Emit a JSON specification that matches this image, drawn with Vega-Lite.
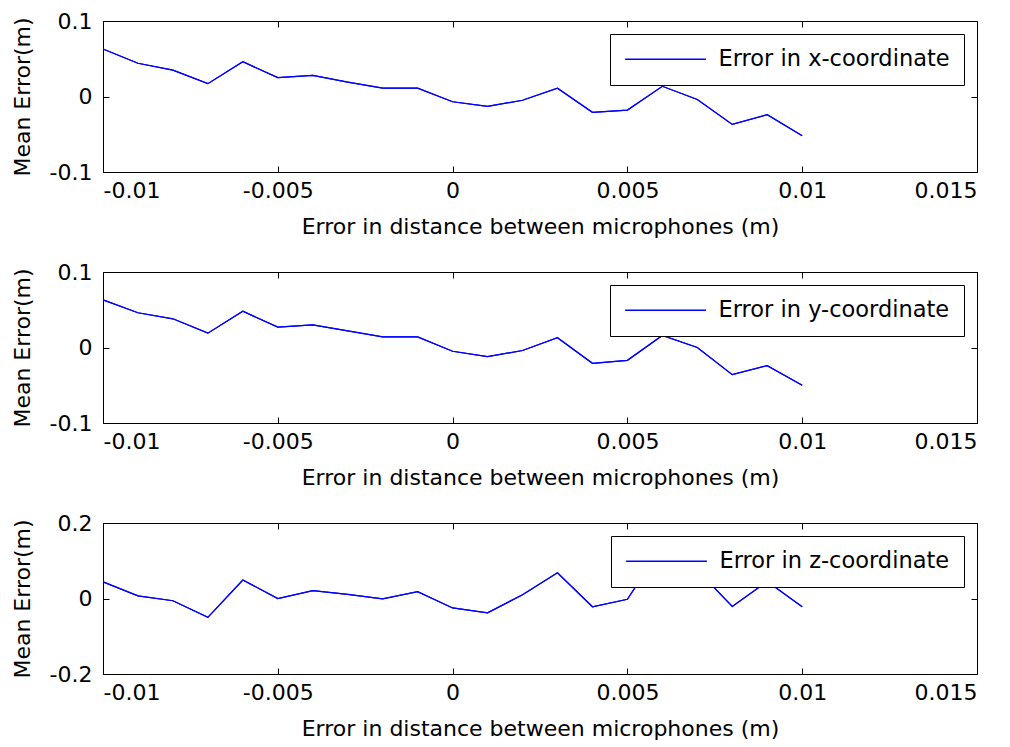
{
  "$schema": "https://vega.github.io/schema/vega-lite/v6.json",
  "background": "white",
  "padding": {"left": 10, "top": 9, "right": 0, "bottom": 0},
  "config": {
    "font": "DejaVu Sans",
    "view": {"stroke": "black", "strokeWidth": 1},
    "axis": {
      "labelFont": "DejaVu Sans", "labelFontSize": 22, "labelColor": "black",
      "titleFont": "DejaVu Sans", "titleFontSize": 22, "titleFontWeight": "normal", "titleColor": "black",
      "grid": false, "domain": false, "tickColor": "black", "tickSize": -6, "tickWidth": 1
    },
    "axisX": {"labelPadding": 14, "titlePadding": 15},
    "axisY": {"labelPadding": 17, "titlePadding": 15},
    "legend": {
      "orient": "top-right", "offset": 13, "strokeColor": "black", "fillColor": "white",
      "padding": 14, "labelFont": "DejaVu Sans", "labelFontSize": 22.5, "labelColor": "black",
      "labelLimit": 400, "symbolType": "M-2,0H14", "symbolSize": 102, "symbolStrokeWidth": 1.3,
      "labelOffset": 72, "cornerRadius": 0
    }
  },
  "datasets": {
    "d": [
      {"dist": -0.010, "err": 0.063, "axis": "x", "series": "Error in x-coordinate"},
      {"dist": -0.009, "err": 0.044, "axis": "x", "series": "Error in x-coordinate"},
      {"dist": -0.008, "err": 0.035, "axis": "x", "series": "Error in x-coordinate"},
      {"dist": -0.007, "err": 0.017, "axis": "x", "series": "Error in x-coordinate"},
      {"dist": -0.006, "err": 0.046, "axis": "x", "series": "Error in x-coordinate"},
      {"dist": -0.005, "err": 0.025, "axis": "x", "series": "Error in x-coordinate"},
      {"dist": -0.004, "err": 0.028, "axis": "x", "series": "Error in x-coordinate"},
      {"dist": -0.003, "err": 0.019, "axis": "x", "series": "Error in x-coordinate"},
      {"dist": -0.002, "err": 0.011, "axis": "x", "series": "Error in x-coordinate"},
      {"dist": -0.001, "err": 0.011, "axis": "x", "series": "Error in x-coordinate"},
      {"dist": 0.000, "err": -0.007, "axis": "x", "series": "Error in x-coordinate"},
      {"dist": 0.001, "err": -0.013, "axis": "x", "series": "Error in x-coordinate"},
      {"dist": 0.002, "err": -0.005, "axis": "x", "series": "Error in x-coordinate"},
      {"dist": 0.003, "err": 0.011, "axis": "x", "series": "Error in x-coordinate"},
      {"dist": 0.004, "err": -0.021, "axis": "x", "series": "Error in x-coordinate"},
      {"dist": 0.005, "err": -0.018, "axis": "x", "series": "Error in x-coordinate"},
      {"dist": 0.006, "err": 0.0135, "axis": "x", "series": "Error in x-coordinate"},
      {"dist": 0.007, "err": -0.004, "axis": "x", "series": "Error in x-coordinate"},
      {"dist": 0.008, "err": -0.037, "axis": "x", "series": "Error in x-coordinate"},
      {"dist": 0.009, "err": -0.024, "axis": "x", "series": "Error in x-coordinate"},
      {"dist": 0.010, "err": -0.052, "axis": "x", "series": "Error in x-coordinate"},

      {"dist": -0.010, "err": 0.063, "axis": "y", "series": "Error in y-coordinate"},
      {"dist": -0.009, "err": 0.046, "axis": "y", "series": "Error in y-coordinate"},
      {"dist": -0.008, "err": 0.038, "axis": "y", "series": "Error in y-coordinate"},
      {"dist": -0.007, "err": 0.019, "axis": "y", "series": "Error in y-coordinate"},
      {"dist": -0.006, "err": 0.048, "axis": "y", "series": "Error in y-coordinate"},
      {"dist": -0.005, "err": 0.027, "axis": "y", "series": "Error in y-coordinate"},
      {"dist": -0.004, "err": 0.030, "axis": "y", "series": "Error in y-coordinate"},
      {"dist": -0.003, "err": 0.022, "axis": "y", "series": "Error in y-coordinate"},
      {"dist": -0.002, "err": 0.014, "axis": "y", "series": "Error in y-coordinate"},
      {"dist": -0.001, "err": 0.014, "axis": "y", "series": "Error in y-coordinate"},
      {"dist": 0.000, "err": -0.005, "axis": "y", "series": "Error in y-coordinate"},
      {"dist": 0.001, "err": -0.012, "axis": "y", "series": "Error in y-coordinate"},
      {"dist": 0.002, "err": -0.004, "axis": "y", "series": "Error in y-coordinate"},
      {"dist": 0.003, "err": 0.013, "axis": "y", "series": "Error in y-coordinate"},
      {"dist": 0.004, "err": -0.021, "axis": "y", "series": "Error in y-coordinate"},
      {"dist": 0.005, "err": -0.017, "axis": "y", "series": "Error in y-coordinate"},
      {"dist": 0.006, "err": 0.016, "axis": "y", "series": "Error in y-coordinate"},
      {"dist": 0.007, "err": 0.000, "axis": "y", "series": "Error in y-coordinate"},
      {"dist": 0.008, "err": -0.036, "axis": "y", "series": "Error in y-coordinate"},
      {"dist": 0.009, "err": -0.024, "axis": "y", "series": "Error in y-coordinate"},
      {"dist": 0.010, "err": -0.050, "axis": "y", "series": "Error in y-coordinate"},

      {"dist": -0.010, "err": 0.044, "axis": "z", "series": "Error in z-coordinate"},
      {"dist": -0.009, "err": 0.007, "axis": "z", "series": "Error in z-coordinate"},
      {"dist": -0.008, "err": -0.006, "axis": "z", "series": "Error in z-coordinate"},
      {"dist": -0.007, "err": -0.050, "axis": "z", "series": "Error in z-coordinate"},
      {"dist": -0.006, "err": 0.049, "axis": "z", "series": "Error in z-coordinate"},
      {"dist": -0.005, "err": 0.000, "axis": "z", "series": "Error in z-coordinate"},
      {"dist": -0.004, "err": 0.021, "axis": "z", "series": "Error in z-coordinate"},
      {"dist": -0.003, "err": 0.011, "axis": "z", "series": "Error in z-coordinate"},
      {"dist": -0.002, "err": -0.001, "axis": "z", "series": "Error in z-coordinate"},
      {"dist": -0.001, "err": 0.018, "axis": "z", "series": "Error in z-coordinate"},
      {"dist": 0.000, "err": -0.025, "axis": "z", "series": "Error in z-coordinate"},
      {"dist": 0.001, "err": -0.038, "axis": "z", "series": "Error in z-coordinate"},
      {"dist": 0.002, "err": 0.010, "axis": "z", "series": "Error in z-coordinate"},
      {"dist": 0.003, "err": 0.068, "axis": "z", "series": "Error in z-coordinate"},
      {"dist": 0.004, "err": -0.022, "axis": "z", "series": "Error in z-coordinate"},
      {"dist": 0.005, "err": -0.002, "axis": "z", "series": "Error in z-coordinate"},
      {"dist": 0.006, "err": 0.140, "axis": "z", "series": "Error in z-coordinate"},
      {"dist": 0.007, "err": 0.075, "axis": "z", "series": "Error in z-coordinate"},
      {"dist": 0.008, "err": -0.021, "axis": "z", "series": "Error in z-coordinate"},
      {"dist": 0.009, "err": 0.045, "axis": "z", "series": "Error in z-coordinate"},
      {"dist": 0.010, "err": -0.022, "axis": "z", "series": "Error in z-coordinate"}
    ]
  },
  "spacing": 100,
  "bounds": "flush",
  "resolve": {"scale": {"color": "independent"}, "legend": {"color": "independent"}},
  "vconcat": [
    {
      "width": 874, "height": 151,
      "data": {"name": "d"},
      "transform": [{"filter": "datum.axis == 'x'"}],
      "layer": [
        {
          "mark": {"type": "line", "strokeWidth": 1.2},
          "encoding": {
            "x": {"field": "dist", "type": "quantitative", "scale": {"domain": [-0.01, 0.015], "nice": false, "zero": false},
                  "axis": {"orient": "bottom", "values": [-0.01, -0.005, 0, 0.005, 0.01, 0.015], "labelExpr": "datum.value + ''", "title": "Error in  distance between microphones (m)"}},
            "y": {"field": "err", "type": "quantitative", "scale": {"domain": [-0.1, 0.1], "nice": false, "zero": false},
                  "axis": {"orient": "left", "values": [-0.1, 0, 0.1], "labelExpr": "datum.value + ''", "title": "Mean Error(m)"}},
            "color": {"field": "series", "type": "nominal", "scale": {"range": ["#0000ff"]}, "legend": {"title": null}}
          }
        },
        {
          "mark": {"type": "line", "strokeWidth": 1.2, "color": "#0000ff"},
          "encoding": {
            "x": {"field": "dist", "type": "quantitative", "axis": {"orient": "top", "values": [-0.01, -0.005, 0, 0.005, 0.01, 0.015], "labels": false, "title": null}},
            "y": {"field": "err", "type": "quantitative", "axis": {"orient": "right", "values": [-0.1, 0, 0.1], "labels": false, "title": null}}
          }
        }
      ]
    },
    {
      "width": 874, "height": 151,
      "data": {"name": "d"},
      "transform": [{"filter": "datum.axis == 'y'"}],
      "layer": [
        {
          "mark": {"type": "line", "strokeWidth": 1.2},
          "encoding": {
            "x": {"field": "dist", "type": "quantitative", "scale": {"domain": [-0.01, 0.015], "nice": false, "zero": false},
                  "axis": {"orient": "bottom", "values": [-0.01, -0.005, 0, 0.005, 0.01, 0.015], "labelExpr": "datum.value + ''", "title": "Error in  distance between microphones (m)"}},
            "y": {"field": "err", "type": "quantitative", "scale": {"domain": [-0.1, 0.1], "nice": false, "zero": false},
                  "axis": {"orient": "left", "values": [-0.1, 0, 0.1], "labelExpr": "datum.value + ''", "title": "Mean Error(m)"}},
            "color": {"field": "series", "type": "nominal", "scale": {"range": ["#0000ff"]}, "legend": {"title": null}}
          }
        },
        {
          "mark": {"type": "line", "strokeWidth": 1.2, "color": "#0000ff"},
          "encoding": {
            "x": {"field": "dist", "type": "quantitative", "axis": {"orient": "top", "values": [-0.01, -0.005, 0, 0.005, 0.01, 0.015], "labels": false, "title": null}},
            "y": {"field": "err", "type": "quantitative", "axis": {"orient": "right", "values": [-0.1, 0, 0.1], "labels": false, "title": null}}
          }
        }
      ]
    },
    {
      "width": 874, "height": 151,
      "data": {"name": "d"},
      "transform": [{"filter": "datum.axis == 'z'"}],
      "layer": [
        {
          "mark": {"type": "line", "strokeWidth": 1.2},
          "encoding": {
            "x": {"field": "dist", "type": "quantitative", "scale": {"domain": [-0.01, 0.015], "nice": false, "zero": false},
                  "axis": {"orient": "bottom", "values": [-0.01, -0.005, 0, 0.005, 0.01, 0.015], "labelExpr": "datum.value + ''", "title": "Error in  distance between microphones (m)"}},
            "y": {"field": "err", "type": "quantitative", "scale": {"domain": [-0.2, 0.2], "nice": false, "zero": false},
                  "axis": {"orient": "left", "values": [-0.2, 0, 0.2], "labelExpr": "datum.value + ''", "title": "Mean Error(m)"}},
            "color": {"field": "series", "type": "nominal", "scale": {"range": ["#0000ff"]}, "legend": {"title": null}}
          }
        },
        {
          "mark": {"type": "line", "strokeWidth": 1.2, "color": "#0000ff"},
          "encoding": {
            "x": {"field": "dist", "type": "quantitative", "axis": {"orient": "top", "values": [-0.01, -0.005, 0, 0.005, 0.01, 0.015], "labels": false, "title": null}},
            "y": {"field": "err", "type": "quantitative", "axis": {"orient": "right", "values": [-0.2, 0, 0.2], "labels": false, "title": null}}
          }
        }
      ]
    }
  ]
}
